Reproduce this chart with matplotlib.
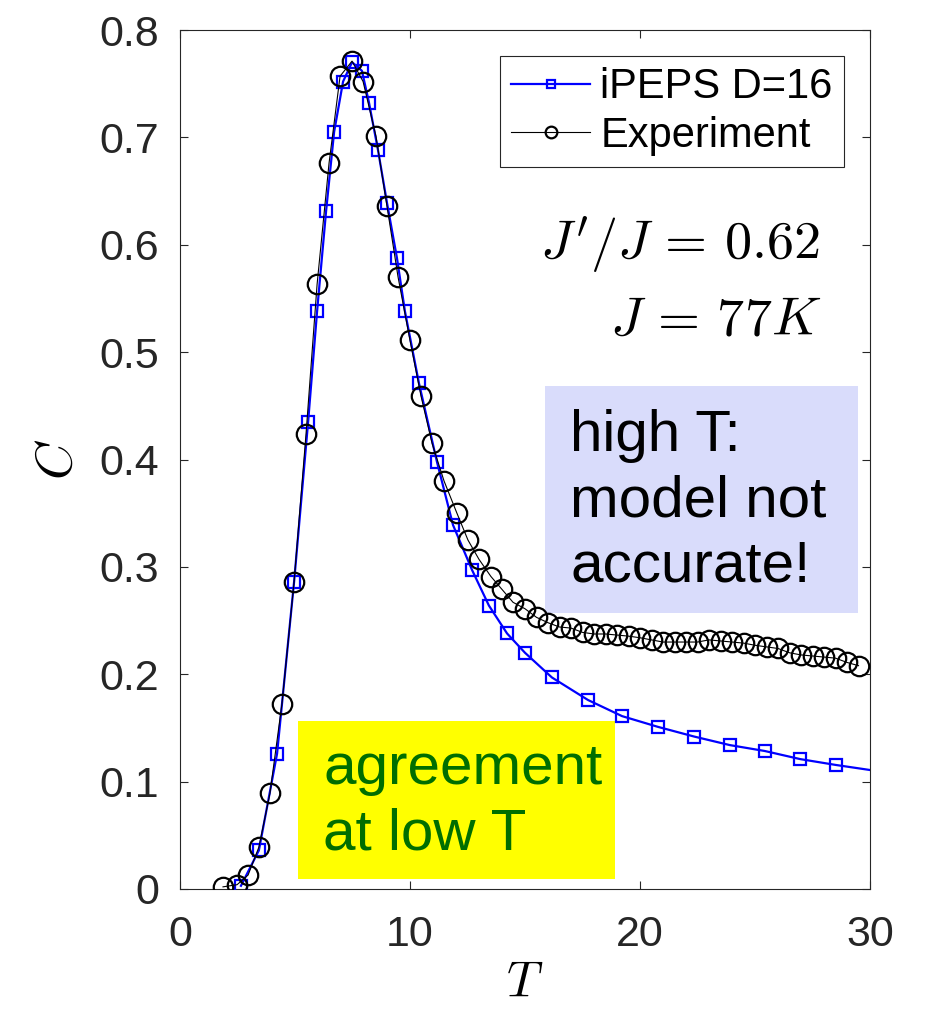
import numpy as np
import matplotlib
matplotlib.use("Agg")
import matplotlib.pyplot as plt
from matplotlib.patches import Rectangle

plt.rcParams["font.family"] = ["Liberation Sans", "DejaVu Sans"]
plt.rcParams["mathtext.fontset"] = "cm"

# iPEPS D=16 specific heat (last point lies just past the axis limit)
T_ipeps = [2.65, 3.43, 4.22, 4.96, 5.57, 5.96, 6.35, 6.70, 7.09, 7.48, 7.91,
           8.22, 8.61, 9.00, 9.43, 9.78, 10.39, 11.17, 11.87, 12.70, 13.43,
           14.22, 15.00, 16.17, 17.74, 19.22, 20.78, 22.35, 23.91, 25.43,
           26.96, 28.52, 30.10]
C_ipeps = [0.003, 0.036, 0.126, 0.286, 0.435, 0.538, 0.631, 0.705, 0.752,
           0.770, 0.762, 0.732, 0.688, 0.639, 0.588, 0.538, 0.471, 0.398,
           0.339, 0.297, 0.264, 0.238, 0.220, 0.197, 0.176, 0.161, 0.151,
           0.142, 0.134, 0.1285, 0.121, 0.1155, 0.1105]

# measured specific heat
T_exp = [1.87, 2.48, 2.96, 3.43, 3.91, 4.43, 4.96, 5.48, 5.96, 6.48, 6.96,
         7.48, 7.96, 8.52, 9.00, 9.48, 10.00, 10.48, 10.96, 11.48, 12.04,
         12.52, 13.00, 13.52, 14.00, 14.48, 15.0, 15.5, 16.0, 16.5, 17.0,
         17.5, 18.0, 18.5, 19.0, 19.5, 20.0, 20.5, 21.0, 21.5, 22.0, 22.5,
         23.0, 23.5, 24.0, 24.5, 25.0, 25.5, 26.0, 26.5, 27.0, 27.5, 28.0,
         28.5, 29.0, 29.5]
C_exp = [0.002, 0.004, 0.013, 0.039, 0.089, 0.172, 0.286, 0.424, 0.563,
         0.676, 0.757, 0.771, 0.752, 0.701, 0.636, 0.570, 0.511, 0.459,
         0.415, 0.380, 0.350, 0.325, 0.307, 0.291, 0.279, 0.267, 0.261,
         0.253, 0.248, 0.244, 0.243, 0.239, 0.2375, 0.2375, 0.2365, 0.2355,
         0.234, 0.232, 0.230, 0.230, 0.230, 0.230, 0.232, 0.231, 0.230,
         0.229, 0.227, 0.2255, 0.224, 0.220, 0.218, 0.217, 0.216, 0.215,
         0.211, 0.208]

x_ticks = [0, 10, 20, 30]
y_ticks = [0, 0.1, 0.2, 0.3, 0.4, 0.5, 0.6, 0.7, 0.8]

fig = plt.figure(figsize=(9.25, 10.09), dpi=100)
ax = fig.add_axes([180 / 925, 1 - 889 / 1009, 690 / 925, 859 / 1009])

grey = "#262626"

# annotation boxes behind the curves
ax.add_patch(Rectangle((15.87, 0.257), 13.61, 0.211, facecolor="#d9dcfb",
                       edgecolor="none", zorder=1))
ax.add_patch(Rectangle((5.13, 0.0093), 13.77, 0.1467, facecolor="#ffff00",
                       edgecolor="none", zorder=1))
ax.text(16.96, 0.447, "high T:\nmodel not\naccurate!", fontsize=42,
        color="black", ha="left", va="top", linespacing=1.27, zorder=2)
ax.text(6.22, 0.137, "agreement\nat low T", fontsize=42, color="#006e00",
        ha="left", va="top", linespacing=1.27, zorder=2)

ax.plot(T_ipeps, C_ipeps, color="blue", lw=1.6, marker="s", ms=9,
        mfc="none", mec="blue", mew=1.6, markevery=slice(0, -1),
        label="iPEPS D=16", zorder=3)
ax.plot(T_exp, C_exp, color="black", lw=0.8, marker="o", ms=14,
        mfc="none", mec="black", mew=1.6, label="Experiment", zorder=4)

ax.text(27.83, 0.586, r"$J'/J\,=\,0.62$", fontsize=39, ha="right",
        va="baseline")
ax.text(27.9, 0.516, r"$J\,=\,77K$", fontsize=39, ha="right", va="baseline")

ax.set_xlim(0, 30)
ax.set_ylim(0, 0.8)
ax.set_xticks(x_ticks)
ax.set_yticks(y_ticks)
ax.set_xticklabels([f"{v:g}" for v in x_ticks])
ax.set_yticklabels([f"{v:g}" for v in y_ticks])
ax.tick_params(direction="in", length=6, width=0.8, top=True, right=True,
               labelsize=31, colors=grey, labelcolor=grey)
ax.tick_params(axis="x", pad=19)
ax.tick_params(axis="y", pad=15)
for s in ax.spines.values():
    s.set_color(grey)
    s.set_linewidth(0.8)

ax.set_xlabel(r"$T$", fontsize=36, labelpad=3)
ax.set_ylabel(r"$C$", fontsize=37, labelpad=12)

leg = ax.legend(loc="upper right", bbox_to_anchor=(0.962, 0.9697),
                borderaxespad=0, fontsize=30, markerscale=0.6,
                handlelength=1.9, handletextpad=0.24, labelspacing=0.2,
                borderpad=0.27, fancybox=False, framealpha=1)
leg.get_frame().set_edgecolor(grey)
leg.get_frame().set_linewidth(0.8)

fig.savefig("out.png", dpi=100)
